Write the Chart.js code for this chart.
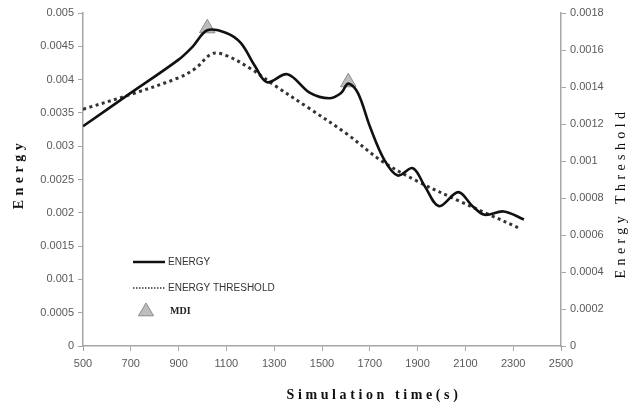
<!DOCTYPE html>
<html>
<head>
<meta charset="utf-8">
<script src="https://cdn.jsdelivr.net/npm/chart.js@4/dist/chart.umd.min.js"></script>
<style>
  html, body { margin: 0; padding: 0; background: #fff; }
  #wrap { width: 632px; height: 414px; }
</style>
</head>
<body>
<div id="wrap"><canvas id="energyChart" width="632" height="414"></canvas></div>
<script>
// values
var energyTimes = [500, 700, 900, 960, 1020, 1100, 1160, 1220, 1270, 1355, 1450, 1530, 1580, 1610, 1650, 1700, 1760, 1817, 1880, 1930, 1990, 2070, 2130, 2180, 2260, 2345];
var energyValues = [0.0033, 0.0038, 0.0043, 0.0045, 0.00474, 0.0047, 0.00455, 0.0042, 0.00396, 0.00408, 0.0038, 0.00372, 0.0038, 0.00394, 0.0038, 0.0033, 0.0028, 0.00256, 0.00267, 0.0024, 0.0021, 0.00231, 0.0021, 0.00197, 0.00202, 0.0019];

var thresholdTimes = [500, 700, 900, 970, 1040, 1100, 1200, 1300, 1440, 1600, 1750, 1900, 2080, 2200, 2320];
var thresholdValues = [0.00128, 0.00136, 0.00145, 0.0015, 0.00158, 0.00157, 0.0015, 0.00141, 0.00129, 0.00115, 0.001, 0.00089, 0.00078, 0.00071, 0.00064];

var mdiTimes = [1020, 1610];
var mdiValues = [0.00477, 0.00396];

function pts(xs, ys) {
  return xs.map(function (x, i) { return { x: x, y: ys[i] }; });
}

var tickFont = { family: "'Liberation Sans', Arial, sans-serif", size: 11 };
var tickColor = '#595959';
var axisColor = '#a6a6a6';

function fmt(v) { return parseFloat(v.toFixed(5)).toString(); }

var extraText = {
  id: 'extraText',
  afterDraw: function (chart) {
    var ctx = chart.ctx;
    var a = chart.chartArea;
    ctx.save();
    ctx.textAlign = 'center';
    ctx.textBaseline = 'middle';
    ctx.fillStyle = '#111';

    // axis titles, letter spaced like the original
    ctx.letterSpacing = '3.6px';
    ctx.font = 'bold 14px "Liberation Serif", serif';
    ctx.fillText('Simulation time(s)', 374, 395);

    ctx.save();
    ctx.translate(19, 174);
    ctx.rotate(-Math.PI / 2);
    ctx.letterSpacing = '4.5px';
    ctx.fillText('Energy', 0, 0);
    ctx.restore();

    ctx.save();
    ctx.translate(621, 193);
    ctx.rotate(-Math.PI / 2);
    ctx.letterSpacing = '4.4px';
    ctx.font = '14px "Liberation Serif", serif';
    ctx.fillText('Energy Threshold', 0, 0);
    ctx.restore();

    // legend inside the plot
    ctx.letterSpacing = '0px';
    var ds = chart.data.datasets;
    var lx0 = a.left + 50, lx1 = a.left + 82, tx = a.left + 85;
    ctx.textAlign = 'left';
    ctx.font = '10px "Liberation Sans Narrow", "Liberation Sans", sans-serif';
    ctx.fillStyle = '#333';

    ctx.beginPath();
    ctx.strokeStyle = ds[0].borderColor;
    ctx.lineWidth = 2.5;
    ctx.moveTo(lx0, 262); ctx.lineTo(lx1, 262);
    ctx.stroke();
    ctx.fillText(ds[0].label, tx, 262);

    ctx.beginPath();
    ctx.strokeStyle = ds[1].borderColor;
    ctx.lineWidth = 1.5;
    ctx.setLineDash([1.5, 1.5]);
    ctx.moveTo(lx0, 288); ctx.lineTo(lx1, 288);
    ctx.stroke();
    ctx.setLineDash([]);
    ctx.fillText(ds[1].label, tx, 288);

    // triangle marker sample
    var cx = a.left + 63, cy = 311, r = 8;
    ctx.beginPath();
    ctx.moveTo(cx, cy - r);
    ctx.lineTo(cx + r * 0.95, cy + r * 0.6);
    ctx.lineTo(cx - r * 0.95, cy + r * 0.6);
    ctx.closePath();
    ctx.fillStyle = ds[2].backgroundColor;
    ctx.fill();
    ctx.strokeStyle = ds[2].borderColor;
    ctx.lineWidth = 1;
    ctx.stroke();
    ctx.fillStyle = '#222';
    ctx.font = 'bold 10px "Liberation Serif", serif';
    ctx.fillText(ds[2].label, a.left + 87, 311);
    ctx.restore();
  }
};

new Chart(document.getElementById('energyChart'), {
  type: 'line',
  data: {
    datasets: [
      {
        label: 'ENERGY',
        data: pts(energyTimes, energyValues),
        yAxisID: 'y',
        borderColor: '#111',
        borderWidth: 2.6,
        tension: 0.35,
        pointRadius: 0,
        fill: false
      },
      {
        label: 'ENERGY THRESHOLD',
        data: pts(thresholdTimes, thresholdValues),
        yAxisID: 'y1',
        borderColor: '#333',
        borderWidth: 3,
        borderDash: [3, 3.5],
        tension: 0.35,
        pointRadius: 0,
        fill: false
      },
      {
        label: 'MDI',
        data: pts(mdiTimes, mdiValues),
        yAxisID: 'y',
        showLine: false,
        pointStyle: 'triangle',
        pointRadius: 9,
        backgroundColor: '#bdbdbd',
        borderColor: '#8c8c8c',
        borderWidth: 1
      }
    ]
  },
  options: {
    responsive: false,
    animation: false,
    layout: { padding: { top: 13, left: 0, right: 0, bottom: 0 } },
    plugins: { legend: { display: false }, tooltip: { enabled: false } },
    scales: {
      x: {
        type: 'linear',
        min: 500,
        max: 2500,
        ticks: { stepSize: 200, font: tickFont, color: tickColor, padding: 6, callback: function (v) { return String(v); } },
        grid: { display: true, drawOnChartArea: false, tickLength: 5, color: axisColor },
        border: { color: axisColor, width: 1.5 },
        afterFit: function (s) { s.height = 68; }
      },
      y: {
        position: 'left',
        min: 0,
        max: 0.005,
        ticks: { stepSize: 0.0005, font: tickFont, color: tickColor, padding: 4, callback: fmt },
        grid: { display: true, drawOnChartArea: false, tickLength: 5, color: axisColor },
        border: { color: axisColor, width: 1.5 },
        afterFit: function (s) { s.width = 83; }
      },
      y1: {
        position: 'right',
        min: 0,
        max: 0.0018,
        ticks: { stepSize: 0.0002, font: tickFont, color: tickColor, padding: 4, callback: fmt },
        grid: { display: true, drawOnChartArea: false, tickLength: 5, color: axisColor },
        border: { color: axisColor, width: 1.5 },
        afterFit: function (s) { s.width = 71; }
      }
    }
  },
  plugins: [extraText]
});
</script>
</body>
</html>
